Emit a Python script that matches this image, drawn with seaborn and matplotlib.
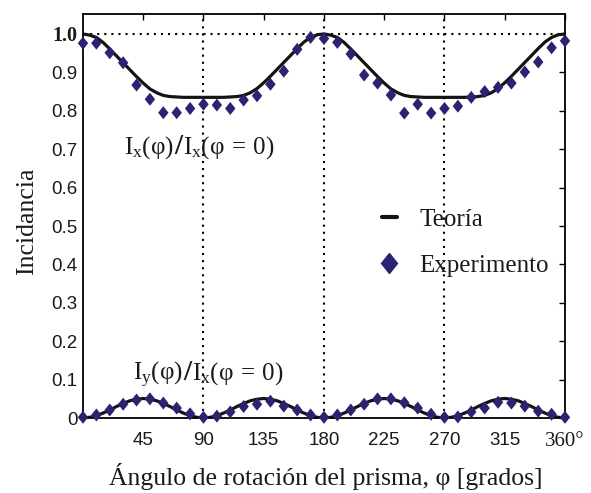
import matplotlib
matplotlib.use("Agg")
import matplotlib.pyplot as plt
from matplotlib.markers import MarkerStyle
from matplotlib.transforms import Affine2D
from matplotlib.lines import Line2D
import pandas as pd
import seaborn as sns

# Theoretical incidence, sampled every 5 degrees of prism rotation
theory_angle = list(range(0, 361, 5))
theory_ix = [
    1.000, 0.997, 0.991, 0.978, 0.961, 0.943, 0.925, 0.907, 0.889, 0.872,
    0.857, 0.847, 0.840, 0.837, 0.836, 0.835, 0.835, 0.835, 0.835, 0.835,
    0.835, 0.835, 0.836, 0.837, 0.840, 0.847, 0.858, 0.873, 0.890, 0.908,
    0.926, 0.944, 0.962, 0.979, 0.991, 0.998, 1.000, 0.997, 0.991, 0.978,
    0.961, 0.943, 0.925, 0.907, 0.889, 0.872, 0.857, 0.847, 0.840, 0.837,
    0.836, 0.835, 0.835, 0.835, 0.835, 0.835, 0.835, 0.835, 0.836, 0.837,
    0.840, 0.847, 0.858, 0.873, 0.890, 0.908, 0.926, 0.944, 0.962, 0.979,
    0.991, 0.998, 1.000,
]
theory_iy = [
    0.000, 0.002, 0.006, 0.013, 0.021, 0.030, 0.038, 0.045, 0.049, 0.051,
    0.049, 0.045, 0.038, 0.030, 0.021, 0.013, 0.006, 0.002, 0.000, 0.002,
    0.006, 0.013, 0.021, 0.030, 0.038, 0.045, 0.049, 0.051, 0.049, 0.045,
    0.038, 0.030, 0.021, 0.013, 0.006, 0.002, 0.000, 0.002, 0.006, 0.013,
    0.021, 0.030, 0.038, 0.045, 0.049, 0.051, 0.049, 0.045, 0.038, 0.030,
    0.021, 0.013, 0.006, 0.002, 0.000, 0.002, 0.006, 0.013, 0.021, 0.030,
    0.038, 0.045, 0.049, 0.051, 0.049, 0.045, 0.038, 0.030, 0.021, 0.013,
    0.006, 0.002, 0.000,
]

# Measured incidence, every 10 degrees
exp_angle = list(range(0, 361, 10))
exp_ix = [
    0.976, 0.976, 0.951, 0.925, 0.867, 0.830, 0.795, 0.795, 0.806, 0.817,
    0.815, 0.806, 0.828, 0.839, 0.869, 0.903, 0.960, 0.991, 0.988, 0.978,
    0.948, 0.893, 0.872, 0.841, 0.794, 0.817, 0.794, 0.806, 0.812, 0.835,
    0.850, 0.861, 0.872, 0.901, 0.927, 0.964, 0.982,
]
exp_iy = [
    0.002, 0.008, 0.021, 0.036, 0.047, 0.050, 0.039, 0.026, 0.011, 0.002,
    0.005, 0.016, 0.030, 0.036, 0.044, 0.031, 0.021, 0.008, 0.002, 0.008,
    0.021, 0.036, 0.050, 0.050, 0.040, 0.026, 0.010, 0.002, 0.003, 0.016,
    0.026, 0.041, 0.039, 0.031, 0.018, 0.010, 0.002,
]

xtick_values = [45, 90, 135, 180, 225, 270, 315, 360]
xtick_labels = ["45", "90", "135", "180", "225", "270", "315", "360°"]
ytick_values = [0.0, 0.1, 0.2, 0.3, 0.4, 0.5, 0.6, 0.7, 0.8, 0.9, 1.0]
ytick_labels = ["0", "0.1", "0.2", "0.3", "0.4", "0.5", "0.6", "0.7", "0.8", "0.9", "1.0"]
guide_angles = [90, 180, 270]

LINE_COLOR = "#141414"
DOT_COLOR = "#2a2372"
TEXT_COLOR = "#1a1a1a"
SERIF = ["Liberation Serif", "DejaVu Serif"]

sns.set_theme(style="white")
plt.rcParams["font.family"] = ["Liberation Sans", "DejaVu Sans"]
plt.rcParams["mathtext.fontset"] = "custom"
plt.rcParams["mathtext.rm"] = "Liberation Serif"
plt.rcParams["mathtext.it"] = "Liberation Serif:italic"
plt.rcParams["mathtext.bf"] = "Liberation Serif:bold"

n_t = len(theory_angle)
n_e = len(exp_angle)
theory = pd.DataFrame({
    "angle": theory_angle + theory_angle,
    "value": theory_ix + theory_iy,
    "curve": ["x"] * n_t + ["y"] * n_t,
})
measured = pd.DataFrame({
    "angle": exp_angle + exp_angle,
    "value": exp_ix + exp_iy,
    "curve": ["x"] * n_e + ["y"] * n_e,
})

fig = plt.figure(figsize=(5.91, 4.93), dpi=100)
ax = fig.add_axes([0.1404, 0.152, 0.8156, 0.8196])

# dotted guides
dots = (0, (1, 2.4))
for a in guide_angles:
    ax.axvline(a, color="black", lw=1.5, ls=dots, zorder=1)
ax.axhline(1.0, color="black", lw=1.5, ls=dots, zorder=1)

sns.lineplot(data=theory, x="angle", y="value", units="curve", estimator=None,
             color=LINE_COLOR, lw=2.3, ax=ax, legend=False, zorder=2)

diamond = MarkerStyle("D", transform=Affine2D().scale(0.8, 1.0))
sns.scatterplot(data=measured, x="angle", y="value", marker=diamond, s=44,
                color=DOT_COLOR, edgecolor="none", linewidth=0, ax=ax,
                legend=False, zorder=3, clip_on=False)

ax.set_xlim(0, 360)
ax.set_ylim(0, 1.052)

for side in ["left", "right", "top", "bottom"]:
    ax.spines[side].set_visible(True)
    ax.spines[side].set_color("black")
    ax.spines[side].set_linewidth(1.3)

ax.set_xticks(xtick_values)
ax.set_xticklabels(xtick_labels)
ax.set_yticks(ytick_values)
ax.set_yticklabels(ytick_labels)
ax.tick_params(axis="both", direction="in", length=4, width=1, color="black",
               top=True, right=True, labelsize=13.5, labelcolor=TEXT_COLOR)
ax.tick_params(axis="x", pad=10)
ax.tick_params(axis="y", pad=4)

xl = ax.get_xticklabels()
xl[-1].set_fontfamily(SERIF)
xl[-1].set_fontsize(15)
yl = ax.get_yticklabels()
yl[-1].set_fontfamily(SERIF)
yl[-1].set_fontweight("bold")
yl[-1].set_fontsize(14.5)

ax.set_xlabel("Ángulo de rotación del prisma, φ [grados]", fontfamily=SERIF,
              fontsize=18.5, color=TEXT_COLOR)
ax.xaxis.set_label_coords(0.504, -0.11)
ax.set_ylabel("Incidancia", fontfamily=SERIF, fontsize=18.5, color=TEXT_COLOR)
ax.yaxis.set_label_coords(-0.093, 0.487)


def ratio_label(x, y, numerator, denominator):
    """Write numerator / denominator around a bold slash centred at (x, y)."""
    ax.text(x, y, "/", ha="center", va="baseline", fontfamily=SERIF,
            fontweight="bold", fontsize=21, color=TEXT_COLOR)
    ax.annotate(numerator, xy=(x, y), xytext=(-3.2, 0), textcoords="offset points",
                ha="right", va="baseline", fontsize=18, color=TEXT_COLOR)
    ax.annotate(denominator, xy=(x, y), xytext=(3.4, 0), textcoords="offset points",
                ha="left", va="baseline", fontsize=18, color=TEXT_COLOR)


ratio_label(71.0, 0.6875, r"$\mathrm{I_x(\varphi)}$", r"$\mathrm{I_x(\varphi\:=\:0)}$")
ratio_label(78.0, 0.099, r"$\mathrm{I_y(\varphi)}$", r"$\mathrm{I_x(\varphi\:=\:0)}$")

handles = [
    Line2D([0], [0], color=LINE_COLOR, lw=3),
    Line2D([0], [0], color=DOT_COLOR, ls="none", marker=diamond, markersize=10),
]
leg = ax.legend(handles, ["Teoría", "Experimento"], loc="upper left",
                bbox_to_anchor=(0.573, 0.575), frameon=False,
                handlelength=0.6, handletextpad=0.9, labelspacing=0.96,
                prop={"family": SERIF, "size": 18})
for t in leg.get_texts():
    t.set_color(TEXT_COLOR)

fig.savefig("out.png", dpi=100)
